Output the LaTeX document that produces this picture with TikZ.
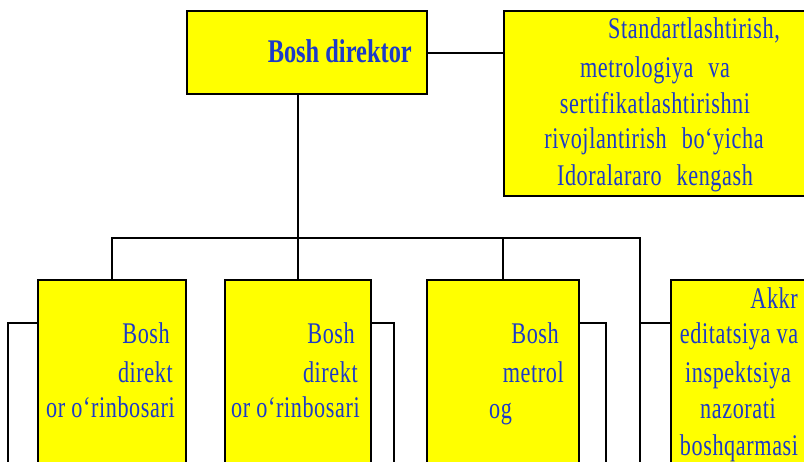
\documentclass[tikz,border=0pt]{standalone}
\usepackage{fontspec}
\newfontfamily\orgfont{Liberation Serif}[FakeStretch=0.74,LetterSpace=2]
\newfontfamily\orgbold{Liberation Serif}[FakeStretch=0.74]
\definecolor{orgyellow}{RGB}{255,255,0}
\definecolor{orgblue}{RGB}{28,58,200}
% wide word gap used in the justified council text
\newcommand{\wgap}{\hspace{15pt}}
\begin{document}
\begin{tikzpicture}[x=1pt,y=-1pt,
  unit/.style={draw=black,line width=2.2pt,fill=orgyellow,rectangle,anchor=north west,inner sep=0pt},
  link/.style={draw=black,line width=2.2pt},
  txt/.style={text=orgblue,font=\orgfont\fontsize{30}{36}\selectfont,inner sep=0pt},
  head/.style={text=orgblue,font=\orgbold\bfseries\fontsize{33}{40}\selectfont,inner sep=0pt}]
\useasboundingbox (0,0) rectangle (804,461);
\clip (0,0) rectangle (804,461);

% boxes
\node[unit,minimum width=240pt,minimum height=83pt] (bd) at (186,10) {};
\node[unit,minimum width=312pt,minimum height=185pt] (rb) at (503,10) {};
\node[unit,minimum width=148pt,minimum height=210pt] (b1) at (37,279) {};
\node[unit,minimum width=146pt,minimum height=210pt] (b2) at (224,279) {};
\node[unit,minimum width=152pt,minimum height=210pt] (b3) at (426,279) {};
\node[unit,minimum width=150pt,minimum height=210pt] (b4) at (670,279) {};

% helper points for the connectors
\coordinate (busR) at (640,238);
\coordinate (busB) at (640,470);
\coordinate (h0) at (426,53);
\coordinate (h1) at ([yshift=-44pt]b1.north west);
\coordinate (h2) at ([yshift=-44pt]b2.north east);
\coordinate (h3) at ([yshift=-44pt]b3.north east);
\coordinate (h4) at ([yshift=-44pt]b4.north west);
\coordinate (s1) at (8,470);
\coordinate (s2) at (394,470);
\coordinate (s3) at (606,470);

% connectors
\draw[link] (h0) -- (h0 -| rb.west);
\draw[link] (b2.north) -- (b2.north |- bd.south);
\draw[link] (b1.north) |- (busR) -- (busB);
\draw[link] (b3.north) -- (b3.north |- busR);
\draw[link] (h4 -| busR) -- (h4);
\draw[link] (h1) -| (s1);
\draw[link] (h2) -| (s2);
\draw[link] (h3) -| (s3);

% texts
\node[head,anchor=base east] (tbd) at (412,62) {Bosh direktor};

\node[txt,anchor=base] (r1) at (694,38) {Standartlashtirish,};
\node[txt,anchor=base] (r2) at (655,77) {metrologiya\wgap va};
\node[txt,anchor=base] (r3) at (655,113) {sertifikatlashtirishni};
\node[txt,anchor=base] (r4) at (654,148) {rivojlantirish\wgap bo‘yicha};
\node[txt,anchor=base] (r5) at (655,185) {Idoralararo\wgap kengash};

\node[txt,anchor=base east] (a1) at (170,343) {Bosh};
\node[txt,anchor=base east] (a2) at (173,382) {direkt};
\node[txt,anchor=base east] (a3) at (175,417) {or o‘rinbosari};

\node[txt,anchor=base east] (c1) at (355,343) {Bosh};
\node[txt,anchor=base east] (c2) at (358,382) {direkt};
\node[txt,anchor=base east] (c3) at (360,417) {or o‘rinbosari};

\node[txt,anchor=base east] (m1) at (559,343) {Bosh};
\node[txt,anchor=base east] (m2) at (564,382) {metrol};
\node[txt,anchor=base west] (m3) at (489,418) {og};

\node[txt,anchor=base east] (k1) at (798,308) {Akkr};
\node[txt,anchor=base] (k2) at (739,343) {editatsiya va};
\node[txt,anchor=base] (k3) at (738,382) {inspektsiya};
\node[txt,anchor=base] (k4) at (738,418) {nazorati};
\node[txt,anchor=base] (k5) at (739,455) {boshqarmasi};
\end{tikzpicture}
\end{document}
